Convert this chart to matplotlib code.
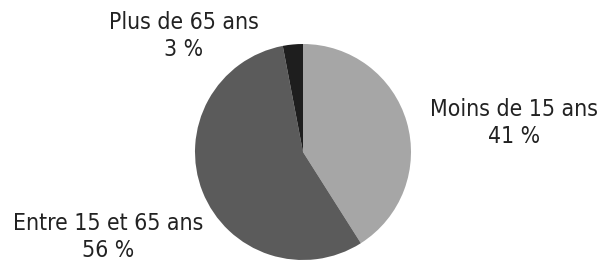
import matplotlib.pyplot as plt

labels = ['Moins de 15 ans', 'Entre 15 et 65 ans', 'Plus de 65 ans']
values = [41, 56, 3]
colors = ['#a6a6a6', '#5b5b5b', '#1e1e1e']

fig = plt.figure(figsize=(6.1, 2.62), dpi=100)
ax = fig.add_axes([0, 0, 1, 1])

ax.pie(values, colors=colors, startangle=90, counterclock=False,
       center=(303, 110), radius=108, frame=True,
       wedgeprops=dict(linewidth=0))
ax.set_xlim(0, 610)
ax.set_ylim(0, 262)
ax.set_aspect('equal')
ax.axis('off')

# label centres in pixels (x, y from top)
pos = [(514, 123), (108, 237), (184, 36)]
for lab, v, (x, y) in zip(labels, values, pos):
    ax.text(x, 262 - y, f'{lab}\n{v} %', ha='center', va='center',
            fontsize=16.5, family='DejaVu Sans', fontstretch='condensed',
            color='#222222', linespacing=1.22)

fig.savefig('out.png', dpi=100)
